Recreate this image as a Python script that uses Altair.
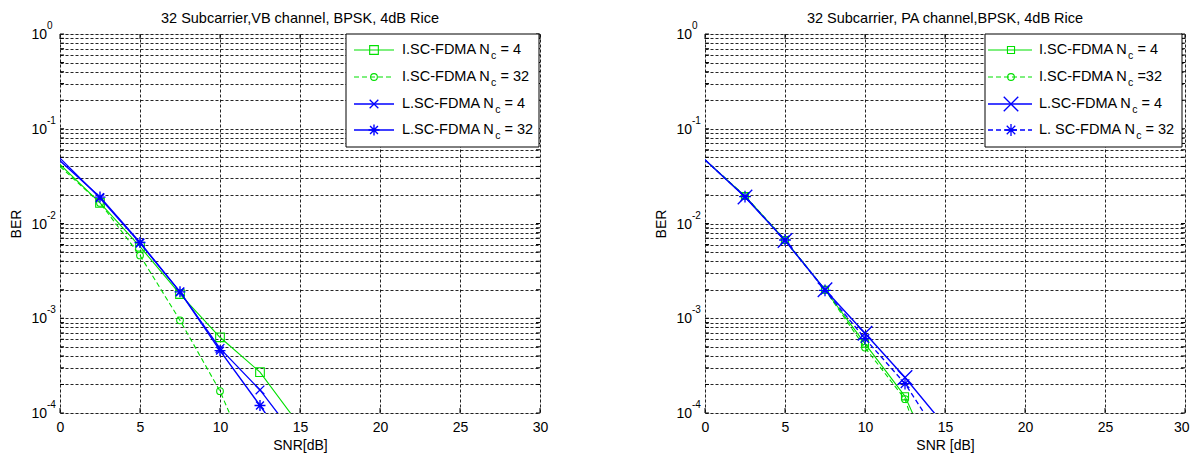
import altair as alt
import pandas as pd

# ---------------- data ----------------
snr = [0, 2.5, 5, 7.5, 10, 12.5, 15]

vb_isc_4 = [0.042, 0.0165, 0.0057, 0.0018, 0.00063, 0.00027, 0.000073]
vb_isc_32 = [0.040, 0.0165, 0.0046, 0.00095, 0.00017, 0.000018, 0.000002]
vb_lsc_4 = [0.049, 0.0186, 0.0062, 0.0019, 0.00048, 0.000175, 0.000049]
vb_lsc_32 = [0.046, 0.019, 0.0063, 0.0019, 0.000455, 0.00012, 0.00003]

pa_isc_4 = [0.047, 0.0195, 0.0067, 0.0020, 0.00054, 0.00015, 0.000017]
pa_isc_32 = [0.047, 0.0195, 0.0067, 0.0020, 0.00049, 0.00014, 0.000008]
pa_lsc_4 = [0.047, 0.019, 0.0066, 0.0020, 0.000695, 0.000237, 0.000073]
pa_lsc_32 = [0.047, 0.0192, 0.0067, 0.00197, 0.00061, 0.000204, 0.000046]

decades = [1.0, 0.1, 0.01, 0.001, 0.0001]
exponents = ["0", "-1", "-2", "-3", "-4"]
x_ticks = [0, 5, 10, 15, 20, 25, 30]
y_grid = [m * 10.0 ** k for k in range(-4, 0) for m in range(1, 10)] + [1.0]

titles = ["32 Subcarrier,VB channel, BPSK, 4dB Rice",
          "32 Subcarrier, PA channel,BPSK, 4dB Rice"]
x_titles = ["SNR[dB]", "SNR [dB]"]
y_title = "BER"

left_legend = [("I.SC-FDMA N", "c", "= 4"), ("I.SC-FDMA N", "c", "= 32"),
               ("L.SC-FDMA N", "c", "= 4"), ("L.SC-FDMA N", "c", "= 32")]
right_legend = [("I.SC-FDMA N", "c", "= 4"), ("I.SC-FDMA N", "c", "=32"),
                ("L.SC-FDMA N", "c", "= 4"), ("L. SC-FDMA N", "c", "= 32")]

# ---------------- style ----------------
W, H = 480, 379
FONT = "Liberation Sans"
GREEN = "#00e000"
BLUE = "#0000ff"
X_PATH = "M-1,-1L1,1M-1,1L1,-1"
AST_PATH = "M-1,0L1,0M0,-1L0,1M-0.72,-0.72L0.72,0.72M-0.72,0.72L0.72,-0.72"
FS = 14
FS_LEG = 14.5
FS_SUB = 10.5

ARIAL = {"I": 278, ".": 278, "S": 667, "C": 722, "-": 333, "F": 611, "D": 722,
         "M": 833, "A": 667, " ": 278, "N": 722, "L": 556, "c": 500, "=": 584}


def text_w(s, fs):
    return sum(ARIAL.get(ch, 556) for ch in s) * fs / 1000.0


one = pd.DataFrame({"k": [0]})


def axes(xtitle, flush):
    xkw = dict(values=x_ticks, title=xtitle, grid=True, gridDash=[3, 2],
               gridColor="black", gridOpacity=0.85, gridWidth=1,
               ticks=False, domain=False, labelFont=FONT, labelFontSize=FS,
               labelColor="black", labelPadding=7, titleFont=FONT,
               titleFontSize=FS, titleFontWeight="normal", titleColor="black",
               titlePadding=4)
    if flush:
        xkw.update(labelFlush=True, labelFlushOffset=4)
    else:
        xkw.update(labelFlush=False)
    xa = alt.X("snr:Q", scale=alt.Scale(domain=[0, 30], nice=False, zero=False),
               axis=alt.Axis(**xkw))
    ya = alt.Y("ber:Q", scale=alt.Scale(type="log", domain=[1e-4, 1], nice=False),
               axis=alt.Axis(values=y_grid, labels=False, title=y_title, grid=True,
                             gridDash=[3, 2], gridColor="black", gridOpacity=0.85,
                             gridWidth=1, ticks=False, domain=False, titleFont=FONT,
                             titleFontSize=FS, titleFontWeight="normal", titleColor="black",
                             titlePadding=37))
    return xa, ya


def make_panel(idx, series, legend_rows, geo, flush):
    xa, ya = axes(x_titles[idx], flush)
    layers = []
    # inward tick marks (MATLAB style)
    xt = pd.DataFrame({"snr": x_ticks})
    layers.append(alt.Chart(xt).mark_rule(color="black", strokeWidth=1)
                  .encode(x=xa, y=alt.value(H), y2=alt.value(H - 5)))
    layers.append(alt.Chart(xt).mark_rule(color="black", strokeWidth=1)
                  .encode(x=xa, y=alt.value(0), y2=alt.value(5)))
    yt = pd.DataFrame({"ber": y_grid})
    layers.append(alt.Chart(yt).mark_rule(color="black", strokeWidth=1)
                  .encode(y=ya, x=alt.value(0), x2=alt.value(4)))
    layers.append(alt.Chart(yt).mark_rule(color="black", strokeWidth=1)
                  .encode(y=ya, x=alt.value(W), x2=alt.value(W - 4)))
    # series lines and markers
    for s in series:
        df = pd.DataFrame({"snr": snr, "ber": s["values"]})
        lk = dict(clip=True, color=s["color"], strokeWidth=s["lw"])
        if s["dash"]:
            lk["strokeDash"] = s["dash"]
        layers.append(alt.Chart(df).mark_line(**lk).encode(x=xa, y=ya))
        layers.append(
            alt.Chart(df).transform_filter("datum.snr > 0")
            .mark_point(clip=True, filled=False, color=s["color"], shape=s["shape"],
                        size=s["size"], strokeWidth=s["lw"], opacity=1)
            .encode(x=xa, y=ya))
    # decade labels 10^k
    lab = pd.DataFrame({"ber": decades, "exp": exponents})
    layers.append(alt.Chart(lab).mark_text(align="right", baseline="middle", font=FONT,
                                           fontSize=FS, color="black", dy=1)
                  .encode(x=alt.value(-13), y=ya, text=alt.value("10")))
    layers.append(alt.Chart(lab).mark_text(align="left", baseline="middle", font=FONT,
                                           fontSize=10, color="black", dy=-8)
                  .encode(x=alt.value(-13), y=ya, text="exp:N"))
    # legend
    bx0, bx1, by0, by1 = geo["box"]
    layers.append(alt.Chart(one).mark_rect(fill="white", stroke="black", strokeWidth=1)
                  .encode(x=alt.value(bx0), x2=alt.value(bx1), y=alt.value(by0),
                          y2=alt.value(by1)))
    for i, (s, (main, sub, tail)) in enumerate(zip(series, legend_rows)):
        ry = geo["rows"][i]
        rk = dict(color=s["color"], strokeWidth=s["lw"])
        if s["dash"]:
            rk["strokeDash"] = s["dash"]
        layers.append(alt.Chart(one).mark_rule(**rk).encode(
            x=alt.value(geo["l0"]), x2=alt.value(geo["l1"]), y=alt.value(ry)))
        layers.append(alt.Chart(one).mark_point(filled=False, color=s["color"],
                                                shape=s["shape"], size=s["size"],
                                                strokeWidth=s["lw"], opacity=1)
                      .encode(x=alt.value(geo["m"]), y=alt.value(ry)))
        tx = geo["t"]
        layers.append(alt.Chart(one).mark_text(align="left", baseline="middle", font=FONT,
                                               fontSize=FS_LEG, color="black")
                      .encode(x=alt.value(tx), y=alt.value(ry), text=alt.value(main)))
        sx = tx + text_w(main, FS_LEG) + 0.5
        layers.append(alt.Chart(one).mark_text(align="left", baseline="middle", font=FONT,
                                               fontSize=FS_SUB, color="black", dy=6)
                      .encode(x=alt.value(sx), y=alt.value(ry), text=alt.value(sub)))
        tail_x = sx + text_w(sub, FS_SUB) + text_w(" ", FS_LEG)
        layers.append(alt.Chart(one).mark_text(align="left", baseline="middle", font=FONT,
                                               fontSize=FS_LEG, color="black")
                      .encode(x=alt.value(tail_x), y=alt.value(ry), text=alt.value(tail)))
    return alt.layer(*layers).properties(
        width=W, height=H,
        title=alt.TitleParams(titles[idx], font=FONT, fontSize=FS_LEG, fontWeight="normal",
                              color="black", frame="group", anchor="middle", offset=-5))


left_series = [
    dict(values=vb_isc_4, color=GREEN, dash=None, shape="square", size=75, lw=1.1),
    dict(values=vb_isc_32, color=GREEN, dash=[5, 3], shape="circle", size=45, lw=1.1),
    dict(values=vb_lsc_4, color=BLUE, dash=None, shape=X_PATH, size=75, lw=1.3),
    dict(values=vb_lsc_32, color=BLUE, dash=None, shape=AST_PATH, size=120, lw=1.4),
]
right_series = [
    dict(values=pa_isc_4, color=GREEN, dash=None, shape="square", size=50, lw=1.1),
    dict(values=pa_isc_32, color=GREEN, dash=[5, 3], shape="circle", size=45, lw=1.1),
    dict(values=pa_lsc_4, color=BLUE, dash=None, shape=X_PATH, size=210, lw=1.4),
    dict(values=pa_lsc_32, color=BLUE, dash=[5, 3], shape=AST_PATH, size=140, lw=1.3),
]

left_geo = dict(box=(286, 479, 0, 113), rows=[16, 43, 70, 96], l0=294, l1=334, m=314, t=342)
right_geo = dict(box=(280, 477, 0, 113), rows=[16, 43, 70, 96], l0=283, l1=327, m=306, t=334)

left = make_panel(0, left_series, left_legend, left_geo, flush=False)
right = make_panel(1, right_series, right_legend, right_geo, flush=True)

chart = alt.hconcat(left, right, spacing=104).configure_view(
    stroke="black", strokeWidth=1).configure(
    background="white", padding={"left": 0, "top": 2, "right": 0, "bottom": 0})

chart.save("out.html", embed_options={"renderer": "svg", "actions": False})
